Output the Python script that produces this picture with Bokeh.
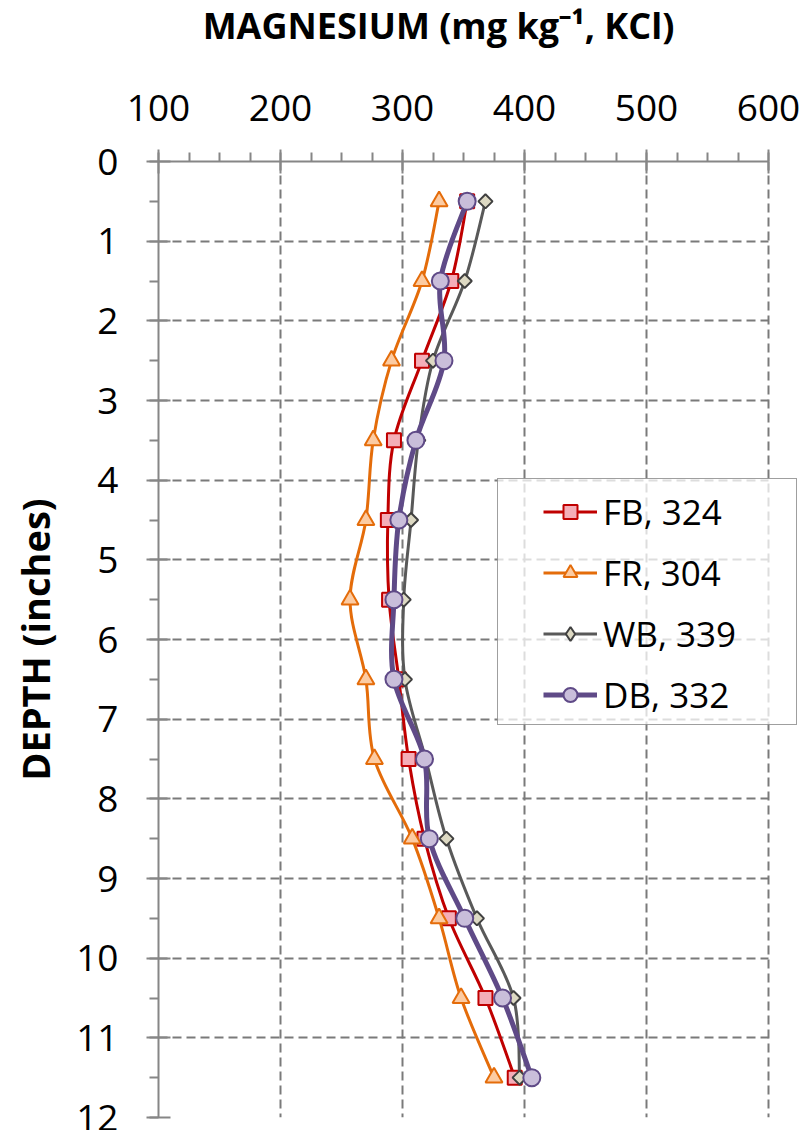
import numpy as np
from bokeh.plotting import figure
from bokeh.layouts import column
from bokeh.models import (Range1d, SingleIntervalTicker, Legend, LegendItem,
                          ColumnDataSource)
from bokeh.core.properties import value
from bokeh.embed import file_html
from bokeh.resources import INLINE

# ---------------- data ----------------
depth = [0.5, 1.5, 2.5, 3.5, 4.5, 5.5, 6.5, 7.5, 8.5, 9.5, 10.5, 11.5]
fb = [353, 340, 316, 293, 288, 289, 297, 305, 318, 338, 368, 392]
fr = [330, 316, 291, 276, 270, 257, 270, 277, 308, 330, 348, 375]
wb = [368, 351, 325, 313, 307, 301, 302, 319, 336, 361, 391, 396]
db = [353, 331, 334, 311, 297, 293, 293, 318, 322, 351, 382, 406]
series_labels = ["FB, 324", "FR, 304", "WB, 339", "DB, 332"]
title_text = "MAGNESIUM (mg kg\u207b\u00b9, KCl)"
y_label = "DEPTH (inches)"
x_ticks_range = (100, 600)
y_grid_levels = list(range(1, 13))

FONT = "Open Sans"

# ---------------- title strip ----------------
# (its frame is aligned by the column layout with the main plot's frame: x 158..800 px)
TH = 60
pt = figure(width=804, height=TH, output_backend="svg", toolbar_location=None,
            x_range=Range1d(158, 800), y_range=Range1d(0, TH),
            x_axis_type=None, y_axis_type=None,
            min_border_left=0, min_border_right=0, min_border_top=0, min_border_bottom=0)
pt.outline_line_color = None
pt.xgrid.visible = False
pt.ygrid.visible = False
pt.text(x=[438], y=[35], text=[title_text], text_align="center",
        text_baseline="alphabetic", text_font=value(FONT), text_font_style="bold",
        text_font_size="36px", text_color="black")

# ---------------- main plot ----------------
px_per_unit = 1.22
x_end = 100 + (800 - 158) / px_per_unit   # frame widened so legend box isn't clipped

p = figure(width=804, height=1130 - TH, output_backend="svg", toolbar_location=None,
           x_range=Range1d(100, x_end), y_range=Range1d(12, 0),
           x_axis_location="above",
           min_border_left=158, min_border_right=4, min_border_bottom=13,
           min_border_top=161 - TH)
p.outline_line_color = None
p.background_fill_color = "white"
p.border_fill_color = "white"

axis_col = "#868686"
p.xaxis.ticker = SingleIntervalTicker(interval=100, num_minor_ticks=4)
p.yaxis.ticker = SingleIntervalTicker(interval=1, num_minor_ticks=2)
p.xaxis.bounds = x_ticks_range
for ax in (p.xaxis[0], p.yaxis[0]):
    ax.axis_line_color = axis_col
    ax.axis_line_width = 2
    ax.major_tick_line_color = axis_col
    ax.major_tick_line_width = 2
    ax.minor_tick_line_color = axis_col
    ax.minor_tick_line_width = 2
    ax.major_tick_out = 12
    ax.major_tick_in = 12
    ax.minor_tick_out = 9
    ax.minor_tick_in = 0
    ax.major_label_text_font = FONT
    ax.major_label_text_font_size = "37px"
    ax.major_label_text_color = "black"
p.xaxis.major_label_standoff = 29
p.yaxis.major_label_standoff = 28
p.yaxis.axis_label = y_label
p.yaxis.axis_label_text_font = FONT
p.yaxis.axis_label_text_font_style = "bold"
p.yaxis.axis_label_text_font_size = "38px"
p.yaxis.axis_label_text_color = "black"
p.yaxis.axis_label_standoff = 12

grid_col = "#7a7a7a"
grid_dash = "9 5"
p.xgrid.grid_line_color = grid_col
p.xgrid.grid_line_width = 2
p.xgrid.grid_line_dash = grid_dash
if hasattr(p.ygrid[0], "cross_bounds"):
    p.ygrid.cross_bounds = x_ticks_range
    p.ygrid.grid_line_color = grid_col
    p.ygrid.grid_line_width = 2
    p.ygrid.grid_line_dash = grid_dash
else:
    p.ygrid.visible = False
    p.segment(x0=[x_ticks_range[0]] * len(y_grid_levels), x1=[x_ticks_range[1]] * len(y_grid_levels),
              y0=y_grid_levels, y1=y_grid_levels, line_color=grid_col, line_width=2,
              line_dash=grid_dash, level="underlay")

# ---------------- series ----------------
styles = [
    dict(line="#C00000", lw=3, marker="square", size=14, fill="#F4AEB8", mline="#C00000", angle=0.0, lm="square"),
    dict(line="#E46C0A", lw=3, marker="triangle", size=17, fill="#FCCBA2", mline="#E46C0A", angle=0.0, lm="triangle"),
    dict(line="#595959", lw=3, marker="square", size=10, fill="#DDD9C3", mline="#404040", angle=np.pi / 4, lm="diamond"),
    dict(line="#5F4A87", lw=5, marker="circle", size=17, fill="#C9BEDA", mline="#5F4A87", angle=0.0, lm="circle"),
]
values = [fb, fr, wb, db]


def smooth_segments(xv, yv):
    x = np.asarray(xv, dtype=float)
    y = np.asarray(yv, dtype=float)
    n = len(x)
    xp = np.concatenate([[x[0]], x, [x[-1]]])
    yp = np.concatenate([[y[0]], y, [y[-1]]])
    d = {"x0": [], "y0": [], "x1": [], "y1": [], "cx0": [], "cy0": [], "cx1": [], "cy1": []}
    for i in range(n - 1):
        j = i + 1
        d["x0"].append(x[i]); d["y0"].append(y[i])
        d["x1"].append(x[i + 1]); d["y1"].append(y[i + 1])
        d["cx0"].append(x[i] + (xp[j + 1] - xp[j - 1]) / 6.0)
        d["cy0"].append(y[i] + (yp[j + 1] - yp[j - 1]) / 6.0)
        d["cx1"].append(x[i + 1] - (xp[j + 2] - xp[j]) / 6.0)
        d["cy1"].append(y[i + 1] - (yp[j + 2] - yp[j]) / 6.0)
    return d


items = []
for vals, st, lab in zip(values, styles, series_labels):
    seg = ColumnDataSource(smooth_segments(vals, depth))
    p.bezier(x0="x0", y0="y0", x1="x1", y1="y1", cx0="cx0", cy0="cy0",
             cx1="cx1", cy1="cy1", source=seg, line_color=st["line"], line_width=st["lw"])
    p.scatter(x=vals, y=depth, marker=st["marker"], size=st["size"], angle=st["angle"],
              fill_color=st["fill"], line_color=st["mline"], line_width=2)
    proxy_line = p.line(x=[np.nan], y=[np.nan], line_color=st["line"], line_width=st["lw"])
    proxy_mark = p.scatter(x=[np.nan], y=[np.nan], marker=st["lm"], size=st["size"],
                           fill_color=st["fill"], line_color=st["mline"], line_width=2)
    items.append(LegendItem(label=lab, renderers=[proxy_line, proxy_mark]))

# legend frame (single blank item used only as the bordered box)
box_proxy = p.line(x=[np.nan], y=[np.nan], line_alpha=0)
box_legend = Legend(items=[LegendItem(label=" ", renderers=[box_proxy])],
                    location=(339, 392), padding=0, margin=0,
                    glyph_width=100, glyph_height=245, label_height=245,
                    label_width=198, label_standoff=0,
                    border_line_color="#404040", border_line_width=1.5,
                    background_fill_color="white", background_fill_alpha=0.75,
                    label_text_font_size="10px")
p.add_layout(box_legend, "center")

legend = Legend(items=items, location=(385, 399), padding=0, margin=0,
                spacing=13, glyph_width=54, glyph_height=35, label_height=48,
                label_standoff=6, border_line_color=None, background_fill_alpha=0,
                label_text_font=FONT, label_text_font_size="35px", label_text_color="black")
p.add_layout(legend, "center")

layout = column(pt, p, spacing=0)
open("out.html", "w").write(file_html(layout, INLINE))
